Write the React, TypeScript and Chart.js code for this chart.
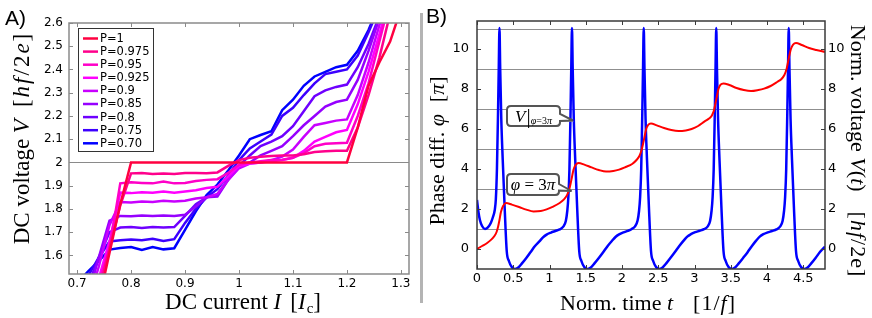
import React, { useEffect, useRef } from 'react';
import { Chart, registerables } from 'chart.js';

Chart.register(...registerables);

const SANS = "'DejaVu Sans', sans-serif";
const SERIF = "'Liberation Serif', 'Times New Roman', serif";

// ---------- Panel A: DC V-I curves ----------
const CURRENT_GRID = [0.70, 0.72, 0.74, 0.76, 0.78, 0.80, 0.82, 0.84, 0.86, 0.88, 0.90, 0.92, 0.94, 0.96, 0.98, 1.00, 1.02, 1.04, 1.06, 1.08, 1.10, 1.12, 1.14, 1.16, 1.18, 1.20, 1.22, 1.24, 1.26, 1.28, 1.30];
const P_LABELS = ['P=1', 'P=0.975', 'P=0.95', 'P=0.925', 'P=0.9', 'P=0.85', 'P=0.8', 'P=0.75', 'P=0.70'];
const P_COLORS = ['rgb(255,0,64)', 'rgb(255,0,140)', 'rgb(255,0,200)', 'rgb(255,0,255)', 'rgb(200,0,255)', 'rgb(150,0,255)', 'rgb(110,0,255)', 'rgb(60,0,255)', 'rgb(0,0,255)'];
const V_P1000 = [0.98, 1.19, 1.40, 1.61, 1.82, 2.0, 2.0, 2.0, 2.0, 2.0, 2.0, 2.0, 2.0, 2.0, 2.0, 2.0, 2.0, 2.0, 2.0, 2.0, 2.0, 2.0, 2.0, 2.0, 2.0, 2.0, 2.15, 2.33, 2.43, 2.52, 2.66];
const V_P975 = [1.07, 1.26, 1.44, 1.63, 1.815, 1.953, 1.955, 1.95, 1.952, 1.95, 1.955, 1.955, 1.953, 1.957, 1.985, 2.01, 2.02, 2.025, 2.028, 2.03, 2.03, 2.035, 2.045, 2.048, 2.05, 2.05, 2.15, 2.29, 2.45, 2.64, 2.84];
const V_P950 = [1.18, 1.33, 1.48, 1.63, 1.91, 1.915, 1.912, 1.91, 1.918, 1.91, 1.912, 1.92, 1.925, 1.928, 1.955, 1.99, 2.0, 2.005, 2.01, 2.012, 2.02, 2.04, 2.07, 2.08, 2.083, 2.085, 2.2, 2.34, 2.52, 2.7, 2.9];
const V_P925 = [1.22, 1.36, 1.50, 1.66, 1.87, 1.868, 1.872, 1.87, 1.875, 1.87, 1.875, 1.88, 1.89, 1.895, 1.94, 1.985, 1.995, 2.0, 2.005, 2.01, 2.02, 2.05, 2.09, 2.11, 2.13, 2.14, 2.25, 2.39, 2.55, 2.72, 2.9];
const V_P900 = [1.26, 1.40, 1.55, 1.73, 1.83, 1.828, 1.832, 1.83, 1.835, 1.832, 1.835, 1.845, 1.85, 1.865, 1.925, 1.975, 1.995, 2.0, 2.01, 2.025, 2.055, 2.11, 2.16, 2.17, 2.18, 2.185, 2.29, 2.43, 2.59, 2.75, 2.9];
const V_P850 = [1.27, 1.42, 1.59, 1.75, 1.77, 1.768, 1.772, 1.77, 1.772, 1.77, 1.775, 1.81, 1.85, 1.853, 1.925, 1.98, 2.0, 2.03, 2.05, 2.07, 2.113, 2.16, 2.2, 2.24, 2.26, 2.27, 2.355, 2.48, 2.62, 2.78, 2.95];
const V_P800 = [1.35, 1.47, 1.59, 1.70, 1.72, 1.722, 1.718, 1.722, 1.72, 1.722, 1.77, 1.82, 1.85, 1.86, 1.93, 1.985, 2.03, 2.07, 2.09, 2.113, 2.156, 2.22, 2.285, 2.31, 2.325, 2.335, 2.41, 2.51, 2.63, 2.78, 2.95];
const V_P750 = [1.43, 1.51, 1.59, 1.66, 1.665, 1.668, 1.665, 1.672, 1.662, 1.67, 1.74, 1.80, 1.85, 1.885, 1.945, 2.01, 2.06, 2.09, 2.12, 2.2, 2.235, 2.29, 2.34, 2.38, 2.39, 2.40, 2.46, 2.56, 2.67, 2.8, 2.95];
const V_P700 = [1.48, 1.53, 1.575, 1.625, 1.632, 1.636, 1.623, 1.636, 1.626, 1.631, 1.71, 1.79, 1.86, 1.905, 1.965, 2.03, 2.1, 2.118, 2.134, 2.225, 2.27, 2.33, 2.37, 2.39, 2.41, 2.42, 2.48, 2.57, 2.68, 2.8, 2.95];
const P_SERIES = [V_P1000, V_P975, V_P950, V_P925, V_P900, V_P850, V_P800, V_P750, V_P700];
const A_X_TICKS = [0.7, 0.8, 0.9, 1.0, 1.1, 1.2, 1.3];
const A_Y_TICKS = [1.6, 1.7, 1.8, 1.9, 2.0, 2.1, 2.2, 2.3, 2.4, 2.5, 2.6];
const A_REF_LEVEL = 2.0;

// ---------- Panel B: time traces ----------
const T_RED = [0, 0.07, 0.14, 0.20, 0.24, 0.27, 0.29, 0.31, 0.33, 0.36, 0.40, 0.48, 0.58, 0.68, 0.78, 0.88, 0.96, 1.05, 1.14, 1.20, 1.24, 1.27, 1.29, 1.31, 1.33, 1.36, 1.40, 1.48, 1.58, 1.68, 1.78, 1.88, 1.96, 2.05, 2.14, 2.20, 2.24, 2.27, 2.29, 2.31, 2.33, 2.36, 2.40, 2.48, 2.58, 2.68, 2.78, 2.88, 2.96, 3.05, 3.14, 3.20, 3.24, 3.27, 3.29, 3.31, 3.33, 3.36, 3.40, 3.48, 3.58, 3.68, 3.78, 3.88, 3.96, 4.05, 4.14, 4.20, 4.24, 4.27, 4.29, 4.31, 4.33, 4.36, 4.40, 4.48, 4.58, 4.68, 4.80];
const PHASE = [0, 0.15, 0.3, 0.48, 0.65, 0.85, 1.1, 1.45, 1.85, 2.15, 2.3, 2.22, 2.1, 1.97, 1.88, 1.9, 1.98, 2.12, 2.3, 2.48, 2.68, 2.95, 3.25, 3.6, 3.95, 4.2, 4.3, 4.22, 4.08, 3.95, 3.87, 3.9, 3.97, 4.1, 4.25, 4.45, 4.65, 4.95, 5.25, 5.6, 5.95, 6.2, 6.28, 6.18, 6.05, 5.95, 5.9, 5.93, 6.0, 6.15, 6.38, 6.52, 6.68, 6.95, 7.3, 7.65, 8.0, 8.22, 8.28, 8.2, 8.05, 7.95, 7.9, 7.95, 8.02, 8.15, 8.35, 8.5, 8.7, 9.0, 9.35, 9.7, 10.0, 10.22, 10.3, 10.2, 10.05, 9.95, 9.85];
const T_BLUE = [
  0, 0.02, 0.04, 0.07, 0.11, 0.15, 0.19, 0.22, 0.245, 0.26, 0.275, 0.29, 0.30, 0.31, 0.32, 0.335, 0.355, 0.38, 0.41, 0.44, 0.48, 0.52,
  0.57, 0.62, 0.68, 0.74, 0.80, 0.86, 0.91, 0.96, 1.02, 1.08, 1.14, 1.19, 1.225, 1.245, 1.26, 1.275, 1.29, 1.30, 1.31, 1.32, 1.335, 1.355, 1.38, 1.41, 1.44, 1.48, 1.52,
  1.57, 1.62, 1.68, 1.74, 1.80, 1.86, 1.91, 1.96, 2.02, 2.08, 2.13, 2.18, 2.215, 2.235, 2.25, 2.265, 2.28, 2.29, 2.30, 2.31, 2.325, 2.345, 2.37, 2.40, 2.43, 2.47, 2.51,
  2.56, 2.61, 2.67, 2.73, 2.79, 2.85, 2.90, 2.95, 3.01, 3.07, 3.13, 3.18, 3.215, 3.235, 3.25, 3.265, 3.28, 3.29, 3.30, 3.31, 3.325, 3.345, 3.37, 3.40, 3.43, 3.47, 3.51,
  3.56, 3.61, 3.67, 3.73, 3.79, 3.85, 3.90, 3.95, 4.01, 4.07, 4.13, 4.18, 4.215, 4.235, 4.25, 4.265, 4.28, 4.29, 4.30, 4.31, 4.325, 4.345, 4.37, 4.40, 4.43, 4.47, 4.51,
  4.56, 4.61, 4.67, 4.73, 4.80,
];
const VOLT = [
  2.45, 1.85, 1.45, 1.15, 1.0, 1.08, 1.3, 1.6, 1.95, 2.5, 4.0, 6.8, 9.0, 11.05, 9.0, 6.5, 4.45, 2.2, -0.1, -0.6, -0.9, -1.0,
  -0.92, -0.72, -0.45, -0.15, 0.15, 0.38, 0.58, 0.72, 0.82, 0.9, 0.98, 1.12, 1.4, 1.9, 2.6, 4.0, 6.8, 9.0, 11.05, 9.0, 6.5, 4.45, 2.2, -0.1, -0.6, -0.9, -1.0,
  -0.92, -0.72, -0.45, -0.16, 0.14, 0.4, 0.6, 0.73, 0.83, 0.91, 0.99, 1.13, 1.42, 1.9, 2.6, 4.0, 6.8, 9.0, 11.05, 9.0, 6.5, 4.45, 2.2, -0.1, -0.6, -0.9, -1.0,
  -0.92, -0.72, -0.44, -0.15, 0.15, 0.42, 0.62, 0.74, 0.84, 0.91, 0.99, 1.12, 1.4, 1.9, 2.6, 4.0, 6.8, 9.0, 11.05, 9.0, 6.5, 4.45, 2.2, -0.1, -0.6, -0.9, -1.0,
  -0.92, -0.72, -0.45, -0.17, 0.14, 0.42, 0.62, 0.74, 0.83, 0.9, 0.98, 1.12, 1.4, 1.9, 2.6, 4.0, 6.8, 9.0, 11.05, 9.0, 6.5, 4.45, 2.2, -0.1, -0.6, -0.9, -1.0,
  -0.92, -0.72, -0.45, -0.15, 0.12,
];
const B_X_TICKS = [0, 0.5, 1, 1.5, 2, 2.5, 3, 3.5, 4, 4.5];
const B_Y_TICKS = [0, 2, 4, 6, 8, 10];
const B_GRID_LEVELS = [1, 3, 5, 7, 9, 11];

const fmt = (v: number) => String(parseFloat(Number(v).toFixed(3)));

function framePlugin(id: string, color: string, width: number, len: number, xTicks: number[], yTicks: number[]) {
  return {
    id,
    afterDatasetsDraw(chart: any) {
      const { ctx, chartArea, scales } = chart;
      const { left, right, top, bottom } = chartArea;
      ctx.save();
      ctx.strokeStyle = color;
      ctx.lineWidth = 1;
      ctx.beginPath();
      for (const v of xTicks) {
        const x = Math.round(scales.x.getPixelForValue(v)) + 0.5;
        ctx.moveTo(x, bottom); ctx.lineTo(x, bottom - len);
        ctx.moveTo(x, top); ctx.lineTo(x, top + len);
      }
      for (const v of yTicks) {
        const y = Math.round(scales.y.getPixelForValue(v)) + 0.5;
        ctx.moveTo(left, y); ctx.lineTo(left + len, y);
        ctx.moveTo(right, y); ctx.lineTo(right - len, y);
      }
      ctx.stroke();
      ctx.lineWidth = width;
      ctx.strokeRect(left, top, right - left, bottom - top);
      ctx.restore();
    },
  };
}

const legendPlugin = {
  id: 'legendA',
  afterDraw(chart: any) {
    const { ctx } = chart;
    const x0 = 78.5, y0 = 28.5, w = 75, h = 123;
    ctx.save();
    ctx.fillStyle = '#fff';
    ctx.fillRect(x0, y0, w, h);
    ctx.strokeStyle = '#333';
    ctx.lineWidth = 1;
    ctx.strokeRect(x0, y0, w, h);
    ctx.font = `11.5px ${SANS}`;
    ctx.textBaseline = 'middle';
    chart.data.datasets.forEach((ds: any, i: number) => {
      const y = 38.5 + i * 13.1;
      ctx.strokeStyle = ds.borderColor;
      ctx.lineWidth = 2.5;
      ctx.beginPath();
      ctx.moveTo(83, y);
      ctx.lineTo(98, y);
      ctx.stroke();
      ctx.fillStyle = '#000';
      ctx.fillText(ds.label, 100, y + 0.5);
    });
    ctx.restore();
  },
};

function configA(): any {
  return {
    type: 'line',
    data: {
      datasets: P_SERIES.map((s, i) => ({
        label: P_LABELS[i],
        data: CURRENT_GRID.map((x, k) => ({ x, y: s[k] })),
        borderColor: P_COLORS[i],
        backgroundColor: P_COLORS[i],
        borderWidth: 2.5,
        pointRadius: 0,
        tension: 0,
        fill: false,
      })),
    },
    options: {
      animation: false,
      responsive: false,
      devicePixelRatio: 1,
      events: [],
      layout: { padding: { top: 23, right: 11, left: 0, bottom: 0 } },
      plugins: { legend: { display: false }, tooltip: { enabled: false } },
      scales: {
        x: {
          type: 'linear', min: 0.685, max: 1.315,
          afterBuildTicks: (s: any) => { s.ticks = A_X_TICKS.map((v) => ({ value: v })); },
          afterFit: (s: any) => { s.height = 44; },
          ticks: { callback: (v: number) => fmt(v), font: { size: 12, family: SANS }, color: '#000', padding: 3, maxRotation: 0, autoSkip: false },
          grid: { display: false, drawTicks: false },
          border: { display: false },
        },
        y: {
          type: 'linear', min: 1.52, max: 2.6,
          afterBuildTicks: (s: any) => { s.ticks = A_Y_TICKS.map((v) => ({ value: v })); },
          afterFit: (s: any) => { s.width = 69; },
          ticks: { callback: (v: number) => fmt(v), font: { size: 12, family: SANS }, color: '#000', padding: 6, autoSkip: false },
          grid: {
            drawTicks: false,
            lineWidth: 1,
            color: (c: any) => (c.tick && Math.abs(c.tick.value - A_REF_LEVEL) < 1e-6 ? '#8a8a8a' : 'rgba(0,0,0,0)'),
          },
          border: { display: false },
        },
      },
    },
    plugins: [framePlugin('frameA', '#8a8a8a', 1.5, 4, A_X_TICKS, A_Y_TICKS), legendPlugin],
  };
}

function configB(): any {
  const yAll = [...B_Y_TICKS, ...B_GRID_LEVELS].sort((a, b) => a - b);
  return {
    type: 'line',
    data: {
      datasets: [
        {
          label: 'Phase',
          data: T_RED.map((x, k) => ({ x, y: PHASE[k] })),
          borderColor: '#ff0000',
          borderWidth: 2,
          pointRadius: 0,
          cubicInterpolationMode: 'monotone',
          fill: false,
          yAxisID: 'y',
        },
        {
          label: 'Voltage',
          data: T_BLUE.map((x, k) => ({ x, y: VOLT[k] })),
          borderColor: '#0000ff',
          borderWidth: 2.5,
          pointRadius: 0,
          cubicInterpolationMode: 'monotone',
          fill: false,
          yAxisID: 'y',
        },
      ],
    },
    options: {
      animation: false,
      responsive: false,
      devicePixelRatio: 1,
      events: [],
      layout: { padding: { top: 21, right: 0, left: 0, bottom: 0 } },
      plugins: { legend: { display: false }, tooltip: { enabled: false } },
      scales: {
        x: {
          type: 'linear', min: 0, max: 4.8,
          afterBuildTicks: (s: any) => { s.ticks = B_X_TICKS.map((v) => ({ value: v })); },
          afterFit: (s: any) => { s.height = 49; },
          ticks: { callback: (v: number) => fmt(v), font: { size: 13, family: SANS }, color: '#000', padding: 2, maxRotation: 0, autoSkip: false },
          grid: { display: false, drawTicks: false },
          border: { display: false },
        },
        y: {
          type: 'linear', position: 'left', min: -1, max: 11.4,
          afterBuildTicks: (s: any) => { s.ticks = yAll.map((v) => ({ value: v })); },
          afterFit: (s: any) => { s.width = 57; },
          ticks: { callback: (v: number) => (B_Y_TICKS.includes(v) ? fmt(v) : ''), font: { size: 13, family: SANS }, color: '#000', padding: 8, autoSkip: false },
          grid: {
            drawTicks: false,
            lineWidth: 1,
            color: (c: any) => (c.tick && B_GRID_LEVELS.includes(c.tick.value) ? '#8f8f8f' : 'rgba(0,0,0,0)'),
          },
          border: { display: false },
        },
        y2: {
          type: 'linear', position: 'right', min: -1, max: 11.4,
          afterBuildTicks: (s: any) => { s.ticks = B_Y_TICKS.map((v) => ({ value: v })); },
          afterFit: (s: any) => { s.width = 47; },
          ticks: { callback: (v: number) => fmt(v), font: { size: 13, family: SANS }, color: '#000', padding: 3, autoSkip: false },
          grid: { display: false, drawTicks: false },
          border: { display: false },
        },
      },
    },
    plugins: [framePlugin('frameB', '#3a3a3a', 1.5, 4, B_X_TICKS, B_Y_TICKS)],
  };
}

const abs = (extra: React.CSSProperties): React.CSSProperties => ({ position: 'absolute', whiteSpace: 'nowrap', lineHeight: 1, ...extra });
const centered = (cx: number, cy: number, deg: number, size: number): React.CSSProperties =>
  abs({ left: cx, top: cy, transform: `translate(-50%, -50%) rotate(${deg}deg)`, fontFamily: SERIF, fontSize: size, color: '#000' });

export default function App() {
  const refA = useRef<HTMLCanvasElement>(null);
  const refB = useRef<HTMLCanvasElement>(null);

  useEffect(() => {
    const a = new Chart(refA.current as HTMLCanvasElement, configA());
    const b = new Chart(refB.current as HTMLCanvasElement, configB());
    return () => {
      a.destroy();
      b.destroy();
    };
  }, []);

  return (
    <div style={{ position: 'fixed', left: 0, top: 0, width: 872, height: 318, background: '#fff', overflow: 'hidden' }}>
      <canvas ref={refA} width={420} height={318} style={{ position: 'absolute', left: 0, top: 0, display: 'block' }} />
      <canvas ref={refB} width={452} height={318} style={{ position: 'absolute', left: 420, top: 0, display: 'block' }} />

      <div style={{ position: 'absolute', left: 420, top: 13, width: 3, height: 290, background: '#b4b4b4' }} />

      <div style={abs({ left: 5, top: 7, fontFamily: "'Liberation Sans', Arial, sans-serif", fontSize: 21 })}>A)</div>
      <div style={abs({ left: 426, top: 5, fontFamily: "'Liberation Sans', Arial, sans-serif", fontSize: 21 })}>B)</div>

      <div style={centered(20.5, 138, -90, 23)}>
        DC voltage <i>V</i>
        <span style={{ marginLeft: 12, letterSpacing: 2 }}>[<i>hf</i>/2<i>e</i>]</span>
      </div>
      <div style={centered(243, 303, 0, 23)}>
        DC current <i>I</i>
        <span style={{ marginLeft: 9 }}>[<i>I</i><sub style={{ fontSize: 15, verticalAlign: -4, marginLeft: 1 }}>c</sub>]</span>
      </div>

      <div style={centered(437, 151, -90, 22)}>
        Phase diff. <i>φ</i>
        <span style={{ marginLeft: 12 }}>[<i>π</i>]</span>
      </div>
      <div style={centered(648, 303, 0, 22)}>
        Norm. time <i>t</i>
        <span style={{ marginLeft: 20, letterSpacing: 1 }}>[1/<i>f</i>]</span>
      </div>
      <div style={centered(858, 151, 90, 22)}>
        Norm. voltage <i>V</i>(<i>t</i>)
        <span style={{ marginLeft: 20, letterSpacing: 1 }}>[<i>hf</i>/2e]</span>
      </div>

      <svg width={872} height={318} style={{ position: 'absolute', left: 0, top: 0, pointerEvents: 'none' }}>
        <path d="M512,107 H557 Q561,107 561,111 V115 L574,121.5 L561,122 V123 Q561,127 557,127 H512 Q508,127 508,123 V111 Q508,107 512,107 Z" fill="#bbb" stroke="none" />
        <path d="M511,106 H556 Q560,106 560,110 V114 L573,120.5 L560,121 V122 Q560,126 556,126 H511 Q507,126 507,122 V110 Q507,106 511,106 Z" fill="#fff" stroke="#555" strokeWidth={2} />
        <path d="M512,175 H556 Q560,175 560,179 V185 L572.5,192 L560,191.5 V192 Q560,196 556,196 H512 Q508,196 508,192 V179 Q508,175 512,175 Z" fill="#bbb" stroke="none" />
        <path d="M511,174 H555 Q559,174 559,178 V184 L571.5,191 L559,190.5 V191 Q559,195 555,195 H511 Q507,195 507,191 V178 Q507,174 511,174 Z" fill="#fff" stroke="#555" strokeWidth={2} />
      </svg>

      <div style={abs({ left: 507, top: 106, width: 53, height: 20, display: 'flex', alignItems: 'center', justifyContent: 'center', fontFamily: SERIF, fontSize: 17 })}>
        <i>V</i>
        <span style={{ fontSize: 21, marginLeft: 1 }}>|</span>
        <span style={{ fontSize: 10, position: 'relative', top: 5 }}><i>φ</i>=3<i>π</i></span>
      </div>
      <div style={abs({ left: 507, top: 174, width: 52, height: 21, display: 'flex', alignItems: 'center', justifyContent: 'center', fontFamily: SERIF, fontSize: 17 })}>
        <i>φ</i>&nbsp;=&nbsp;3<i>π</i>
      </div>
    </div>
  );
}
